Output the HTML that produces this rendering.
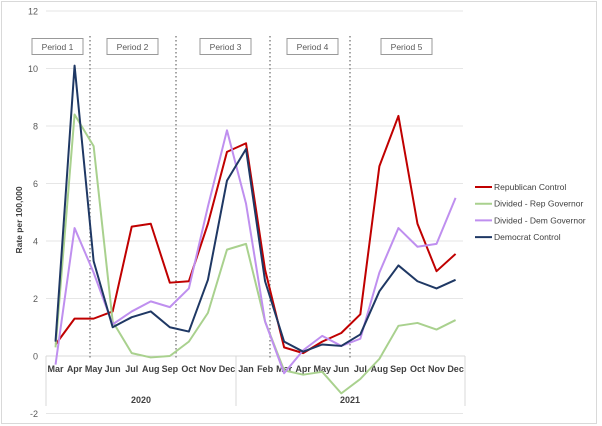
<!DOCTYPE html>
<html><head><meta charset="utf-8"><style>
html,body{margin:0;padding:0;background:#fff;}
svg{display:block;font-family:"Liberation Sans",sans-serif;}
</style></head><body>
<svg id="s" width="602" height="426" viewBox="0 0 602 426">
<rect x="1.5" y="1.5" width="595" height="422" fill="#fff" stroke="#d9d9d9"/>
</svg>
<script>
const s=document.getElementById('s');const NS='http://www.w3.org/2000/svg';
function el(t,a,txt){const e=document.createElementNS(NS,t);for(const k in a)e.setAttribute(k,a[k]);if(txt!==undefined)e.textContent=txt;s.appendChild(e);return e;}
const Y=v=>356-28.75*v, X=i=>46+19.05*(i+0.5);
for(let v=-2;v<=12;v+=2){ if(v!==0) el('line',{x1:46,x2:463,y1:Y(v),y2:Y(v),stroke:'#e6e6e6','stroke-width':1});
 el('text',{x:38,y:Y(v)+3.5,'text-anchor':'end','font-size':9,fill:'#595959'},v);}
el('line',{x1:46,x2:465,y1:356,y2:356,stroke:'#d9d9d9'});
[46,236,465].forEach(x=>el('line',{x1:x,x2:x,y1:356,y2:406,stroke:'#d9d9d9'}));
const m=['Mar','Apr','May','Jun','Jul','Aug','Sep','Oct','Nov','Dec','Jan','Feb','Mar','Apr','May','Jun','Jul','Aug','Sep','Oct','Nov','Dec'];
m.forEach((t,i)=>el('text',{x:X(i),y:372,'text-anchor':'middle','font-size':9,fill:'#404040','font-weight':'bold'},t));
el('text',{x:141,y:403,'text-anchor':'middle','font-size':9,fill:'#404040','font-weight':'bold'},'2020');
el('text',{x:350,y:403,'text-anchor':'middle','font-size':9,fill:'#404040','font-weight':'bold'},'2021');
el('text',{x:0,y:0,transform:'translate(22,220) rotate(-90)','text-anchor':'middle','font-size':8.5,'font-weight':'bold',fill:'#404040'},'Rate per 100,000');
[90,176,270,350].forEach(x=>el('line',{x1:x,x2:x,y1:36,y2:358,stroke:'#888','stroke-width':1.5,'stroke-dasharray':'1.5,2.5'}));
[[32,'Period 1'],[107,'Period 2'],[200,'Period 3'],[287,'Period 4'],[381,'Period 5']].forEach(([x,t])=>{
 el('rect',{x:x,y:38.5,width:51,height:16,fill:'#fff',stroke:'#999'});
 el('text',{x:x+25.5,y:50,'text-anchor':'middle','font-size':8.5,fill:'#595959'},t);});
const D=[
['#c00000',[0.4,1.3,1.3,1.55,4.5,4.6,2.55,2.6,4.6,7.1,7.4,3.0,0.3,0.1,0.5,0.8,1.45,6.6,8.35,4.6,2.95,3.55],'Republican Control'],
['#a9d18e',[0.3,8.4,7.3,1.2,0.1,-0.05,0,0.5,1.5,3.7,3.9,1.2,-0.5,-0.65,-0.55,-1.3,-0.8,-0.1,1.05,1.15,0.92,1.25],'Divided - Rep Governor'],
['#bf8fef',[-0.3,4.45,2.9,1.1,1.55,1.9,1.7,2.35,5.2,7.85,5.3,1.2,-0.6,0.2,0.7,0.35,0.6,2.9,4.45,3.8,3.9,5.5],'Divided - Dem Governor'],
['#1f3864',[0.5,10.1,3.3,1.0,1.35,1.55,1.0,0.85,2.65,6.1,7.2,2.6,0.5,0.15,0.4,0.35,0.75,2.25,3.15,2.6,2.35,2.65],'Democrat Control']];
D.forEach(([c,d,n],k)=>{
 el('polyline',{points:d.map((v,i)=>X(i)+','+Y(v)).join(' '),fill:'none',stroke:c,'stroke-width':2,'stroke-linejoin':'round'});
 const y=187+k*16.7;
 el('line',{x1:475,x2:492,y1:y,y2:y,stroke:c,'stroke-width':2});
 el('text',{x:494,y:y+3,'font-size':8.5,fill:'#404040'},n);});
</script>
</body></html>
